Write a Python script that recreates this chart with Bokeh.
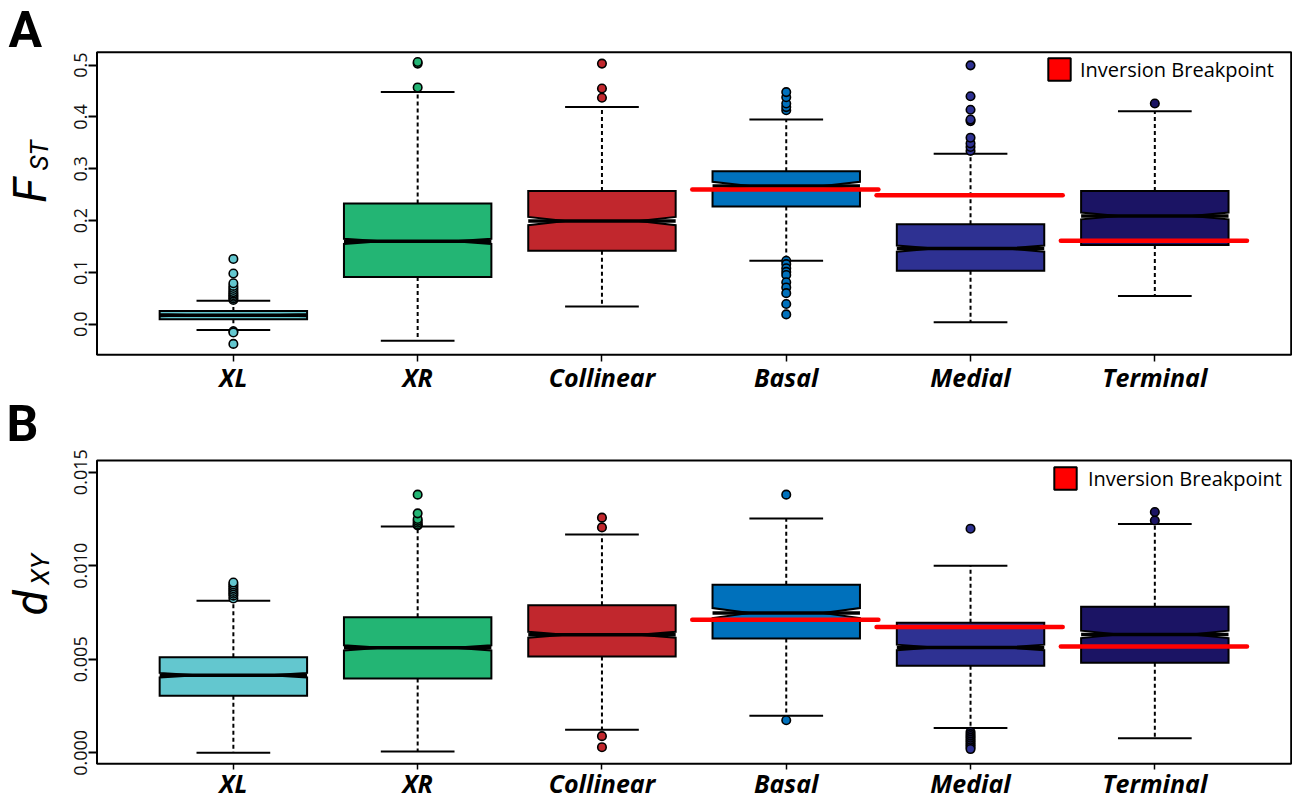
import math
from bokeh.plotting import figure
from bokeh.models import (FixedTicker, PrintfTickFormatter, Label, Legend,
                          LegendItem, Range1d, BoxAnnotation)
from bokeh.layouts import column
from bokeh.embed import file_html
from bokeh.resources import INLINE

# ---------------- data ----------------
categories = ["XL", "XR", "Collinear", "Basal", "Medial", "Terminal"]
positions = [1, 2, 3, 4, 5, 6]
box_colors = ["#63c7cf", "#23b574", "#c1272d", "#0071bc", "#2e3192", "#1b1464"]

# Panel A : F_ST
fst_q1 = [0.0096, 0.091, 0.142, 0.227, 0.103, 0.153]
fst_median = [0.0173, 0.160, 0.199, 0.267, 0.146, 0.209]
fst_q3 = [0.0256, 0.233, 0.257, 0.295, 0.193, 0.257]
fst_whisker_low = [-0.011, -0.032, 0.034, 0.1226, 0.004, 0.0545]
fst_whisker_high = [0.0455, 0.448, 0.419, 0.395, 0.329, 0.411]
fst_notch = [0.002, 0.005, 0.008, 0.008, 0.006, 0.0065]
fst_outliers = [
    [0.047, 0.050, 0.053, 0.056, 0.059, 0.062, 0.066, 0.070, 0.074, 0.079,
     0.098, 0.126, -0.0135, -0.016, -0.038],
    [0.457, 0.503, 0.506],
    [0.437, 0.455, 0.503],
    [0.413, 0.419, 0.426, 0.438, 0.448, 0.1226, 0.116, 0.108, 0.101, 0.095,
     0.081, 0.071, 0.060, 0.039, 0.019],
    [0.3345, 0.342, 0.349, 0.360, 0.392, 0.395, 0.414, 0.440, 0.4996],
    [0.426],
]
fst_breakpoint = [None, None, None, 0.260, 0.249, 0.161]
fst_ticks = [0.0, 0.1, 0.2, 0.3, 0.4, 0.5]
fst_limits = (-0.059, 0.525)

# Panel B : d_XY
dxy_q1 = [0.00305, 0.00397, 0.00515, 0.00611, 0.00465, 0.00481]
dxy_median = [0.00415, 0.00561, 0.00631, 0.00747, 0.00563, 0.00633]
dxy_q3 = [0.00511, 0.00724, 0.00789, 0.00898, 0.00695, 0.00781]
dxy_whisker_low = [0.0000, 0.00007, 0.00123, 0.00198, 0.00132, 0.00078]
dxy_whisker_high = [0.00813, 0.0121, 0.01167, 0.01253, 0.0100, 0.01223]
dxy_notch = [0.00012, 0.00014, 0.00016, 0.00027, 0.00015, 0.00020]
dxy_outliers = [
    [0.00825, 0.0084, 0.0085, 0.0086, 0.0087, 0.0088, 0.0089, 0.0090, 0.0091],
    [0.01215, 0.0122, 0.0123, 0.0124, 0.0125, 0.0128, 0.0138],
    [0.01205, 0.01257, 0.00089, 0.0003],
    [0.0138, 0.00174],
    [0.01198, 0.00112, 0.0010, 0.0009, 0.0008, 0.0007, 0.0006, 0.0005,
     0.0004, 0.0003, 0.0002],
    [0.01242, 0.01287],
]
dxy_breakpoint = [None, None, None, 0.00711, 0.00672, 0.00568]
dxy_ticks = [0.0, 0.005, 0.010, 0.015]
dxy_limits = (-0.000588, 0.015625)

# ---------------- layout / styling ----------------
X_LIMITS = (0.26, 6.74)
FIG_W = 1292
BOX_LEFT_PX, BOX_RIGHT_PX = 96.5, 1290.7
BOX_HALF = 0.4
NOTCH_IN = 0.5
STAPLE_HALF = 0.2
FONT = "Open Sans"
TITLE_FONT = "Roboto"


def make_panel(q1, med, q3, wlo, whi, notch, outliers, brk, ylim, ticks, fmt,
               fig_h, box_top_px, box_bottom_px, xtick_out, xlabel_standoff,
               letter, letter_px, ylab_main, main_px, main_size,
               ylab_sub, sub_px, legend_px, legend_standoff):
    # pixel -> data helpers (the frame covers the whole canvas)
    xs_per_px = (X_LIMITS[1] - X_LIMITS[0]) / (BOX_RIGHT_PX - BOX_LEFT_PX)
    x0 = X_LIMITS[0] - BOX_LEFT_PX * xs_per_px
    x1 = x0 + FIG_W * xs_per_px
    ys_per_px = (ylim[1] - ylim[0]) / (box_bottom_px - box_top_px)
    y1 = ylim[1] + box_top_px * ys_per_px
    y0 = y1 - fig_h * ys_per_px

    def dx(px):
        return x0 + px * xs_per_px

    def dy(py):
        return y1 - py * ys_per_px

    p = figure(width=FIG_W, height=fig_h,
               x_range=Range1d(x0, x1), y_range=Range1d(y0, y1),
               output_backend="svg", toolbar_location=None,
               min_border=0, min_border_left=0, min_border_right=0,
               min_border_top=0, min_border_bottom=0)
    p.grid.visible = False
    p.outline_line_color = None
    p.background_fill_color = "white"
    p.border_fill_color = "white"

    # x axis, drawn on the bottom edge of the box
    xa = p.xaxis[0]
    xa.fixed_location = ylim[0]
    xa.ticker = FixedTicker(ticks=positions)
    xa.major_label_overrides = {pos: c for pos, c in zip(positions, categories)}
    xa.axis_line_color = None
    xa.minor_tick_line_color = None
    xa.major_tick_in = 0
    xa.major_tick_out = xtick_out
    xa.major_tick_line_width = 1.5
    xa.major_label_standoff = xlabel_standoff
    xa.major_label_text_font = FONT
    xa.major_label_text_font_size = "25px"
    xa.major_label_text_font_style = "bold italic"
    xa.major_label_text_color = "black"

    # y axis, drawn on the left edge of the box
    ya = p.yaxis[0]
    ya.fixed_location = X_LIMITS[0]
    ya.ticker = FixedTicker(ticks=ticks)
    ya.formatter = PrintfTickFormatter(format=fmt)
    ya.axis_line_color = None
    ya.minor_tick_line_color = None
    ya.major_tick_in = 0
    ya.major_tick_out = 9
    ya.major_tick_line_width = 2
    ya.major_label_standoff = 1
    ya.major_label_orientation = "vertical"
    ya.major_label_text_font = FONT
    ya.major_label_text_font_size = "18px"
    ya.major_label_text_color = "#111111"

    # whiskers (dashed)
    p.segment(x0=positions, y0=q3, x1=positions, y1=whi, line_color="black",
              line_width=2, line_dash="4 3")
    p.segment(x0=positions, y0=q1, x1=positions, y1=wlo, line_color="black",
              line_width=2, line_dash="4 3")
    # staples
    p.segment(x0=[x - STAPLE_HALF for x in positions], y0=whi,
              x1=[x + STAPLE_HALF for x in positions], y1=whi,
              line_color="black", line_width=2)
    p.segment(x0=[x - STAPLE_HALF for x in positions], y0=wlo,
              x1=[x + STAPLE_HALF for x in positions], y1=wlo,
              line_color="black", line_width=2)

    # notched boxes
    bxs, bys = [], []
    for x, a, m, b, n in zip(positions, q1, med, q3, notch):
        w = BOX_HALF
        bxs.append([x - w, x + w, x + w, x + w * NOTCH_IN, x + w, x + w,
                    x - w, x - w, x - w * NOTCH_IN, x - w])
        bys.append([a, a, m - n, m, m + n, b, b, m + n, m, m - n])
    p.patches(xs=bxs, ys=bys, fill_color=box_colors, line_color="black",
              line_width=2, line_join="miter")
    # medians
    p.segment(x0=[x - BOX_HALF for x in positions], y0=med,
              x1=[x + BOX_HALF for x in positions], y1=med,
              line_color="black", line_width=3.5)

    # outliers
    ox, oy, oc = [], [], []
    for x, vals, col in zip(positions, outliers, box_colors):
        for v in vals:
            ox.append(x)
            oy.append(v)
            oc.append(col)
    p.scatter(x=ox, y=oy, marker="circle", size=8.5, fill_color=oc,
              line_color="black", line_width=1.6)

    # inversion breakpoint lines
    bx0, bx1, by = [], [], []
    for x, v in zip(positions, brk):
        if v is not None:
            bx0.append(x - 0.51)
            bx1.append(x + 0.5)
            by.append(v)
    p.segment(x0=bx0, y0=by, x1=bx1, y1=by, line_color="#ff0000",
              line_width=4.5, line_cap="round")

    # plot box
    p.add_layout(BoxAnnotation(left=X_LIMITS[0], right=X_LIMITS[1],
                               bottom=ylim[0], top=ylim[1], fill_alpha=0,
                               line_color="black", line_width=2,
                               line_alpha=1))

    # legend
    nan = float("nan")
    leg_r = p.quad(left=[nan], right=[nan], top=[nan], bottom=[nan],
                   fill_color="#ff0000", line_color="black", line_width=2)
    legend = Legend(items=[LegendItem(label="Inversion Breakpoint",
                                      renderers=[leg_r])],
                    location=(legend_px[0], fig_h - legend_px[1] - 28),
                    margin=0, padding=0, spacing=0,
                    glyph_width=28, glyph_height=28, label_height=28,
                    label_standoff=legend_standoff, label_text_font=FONT,
                    label_text_font_size="20px", label_text_color="black",
                    border_line_alpha=0, background_fill_alpha=0)
    p.add_layout(legend)

    # panel letter (top-left anchored)
    p.add_layout(Label(x=dx(letter_px[0]), y=dy(letter_px[1]), text=letter,
                       text_font=TITLE_FONT, text_font_size="50px",
                       text_font_style="bold", text_color="black",
                       text_align="left", text_baseline="top"))
    # y-axis title with subscript
    p.add_layout(Label(x=dx(main_px[0]), y=dy(main_px[1]), text=ylab_main,
                       angle=math.pi / 2, text_font=TITLE_FONT,
                       text_font_size=main_size, text_font_style="italic",
                       text_color="black", text_align="center",
                       text_baseline="middle"))
    p.add_layout(Label(x=dx(sub_px[0]), y=dy(sub_px[1]), text=ylab_sub,
                       angle=math.pi / 2, text_font=TITLE_FONT,
                       text_font_size="26px", text_font_style="italic",
                       text_color="black", text_align="center",
                       text_baseline="middle"))
    return p


p1 = make_panel(fst_q1, fst_median, fst_q3, fst_whisker_low, fst_whisker_high,
                fst_notch, fst_outliers, fst_breakpoint, fst_limits,
                fst_ticks, "%.1f", 394, 51.7, 354.3, 7, -2,
                "A", (8, 0.5), "F", (29, 190), "46px", "ST", (38, 155),
                (1045, 55), 7)
p2 = make_panel(dxy_q1, dxy_median, dxy_q3, dxy_whisker_low, dxy_whisker_high,
                dxy_notch, dxy_outliers, dxy_breakpoint, dxy_limits,
                dxy_ticks, "%.3f", 406, 66.0, 369.3, 6, -4,
                "B", (6, 0.5), "d", (30, 208.5), "46px", "XY", (39.5, 175),
                (1051, 70), 9)

layout = column(p1, p2, spacing=0)
open("out.html", "w").write(file_html(layout, INLINE))
